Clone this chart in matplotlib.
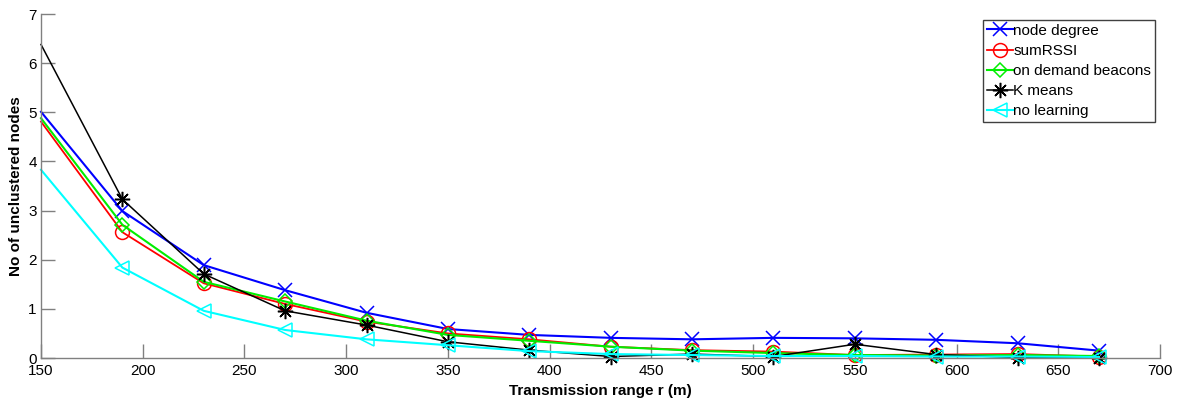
import matplotlib
matplotlib.use("Agg")
import matplotlib.pyplot as plt

plt.rcParams['font.family'] = ['Liberation Sans', 'DejaVu Sans']

r = [150, 190, 230, 270, 310, 350, 390, 430, 470, 510, 550, 590, 630, 670]

node_degree = [5.01, 2.99, 1.89, 1.38, 0.92, 0.59, 0.47, 0.41, 0.38, 0.41, 0.40, 0.37, 0.30, 0.15]
sum_rssi    = [4.81, 2.56, 1.52, 1.10, 0.74, 0.50, 0.38, 0.23, 0.16, 0.13, 0.06, 0.07, 0.08, 0.03]
on_demand   = [4.88, 2.71, 1.55, 1.15, 0.76, 0.47, 0.35, 0.23, 0.15, 0.10, 0.06, 0.05, 0.06, 0.04]
k_means     = [6.38, 3.23, 1.71, 0.96, 0.67, 0.33, 0.16, 0.03, 0.08, 0.03, 0.28, 0.07, 0.01, 0.01]
no_learning = [3.83, 1.84, 0.96, 0.57, 0.38, 0.26, 0.14, 0.08, 0.06, 0.04, 0.04, 0.03, 0.03, 0.02]

# asterisk marker: eight thin arms, like a '+' over an 'x'
asterisk = (8, 2, 0)

series = [
    ("node degree", node_degree, "#0000ff", "x", 1.5, 10),
    ("sumRSSI", sum_rssi, "#ff0000", "o", 1.3, 10),
    ("on demand beacons", on_demand, "#00ee00", "D", 1.5, 7),
    ("K means", k_means, "#000000", asterisk, 1.1, 11),
    ("no learning", no_learning, "#00ffff", "<", 1.5, 10),
]

fig = plt.figure(figsize=(11.87, 3.98), dpi=100)
ax = fig.add_axes([41 / 1187, 1 - 358 / 398, (1160 - 41) / 1187, (358 - 14) / 398])

for label, ys, color, marker, lw, ms in series:
    ax.plot(r, ys, color=color, linewidth=lw, marker=marker, markersize=ms,
            markerfacecolor="none", markeredgecolor=color, markeredgewidth=1.1,
            markevery=slice(1, None), label=label, clip_on=False)

ax.set_xlim(150, 700)
ax.set_ylim(0, 7)
ax.set_xticks(range(150, 701, 50))
ax.set_yticks(range(0, 8))

for side in ("top", "right"):
    ax.spines[side].set_visible(False)
for side in ("left", "bottom"):
    ax.spines[side].set_color("#808080")
    ax.spines[side].set_linewidth(1.0)

ax.tick_params(direction="in", length=10, width=1.0, color="#808080",
               labelsize=11)
ax.tick_params(axis="x", pad=4)
ax.tick_params(axis="y", pad=3)

ax.set_xlabel("Transmission range r (m)", fontsize=11, fontweight="bold", labelpad=5)
ax.set_ylabel("No of unclustered nodes", fontsize=11, fontweight="bold", labelpad=4)

leg = ax.legend(loc="upper right", bbox_to_anchor=(1155 / 1187, 1 - 20 / 398),
                bbox_transform=fig.transFigure, fontsize=11, fancybox=False,
                framealpha=1, edgecolor="#404040", borderpad=0.25,
                labelspacing=0.4, handlelength=1.7, handletextpad=0.05,
                borderaxespad=0)
leg.get_frame().set_linewidth(1.0)

fig.savefig("out.png", dpi=100)
